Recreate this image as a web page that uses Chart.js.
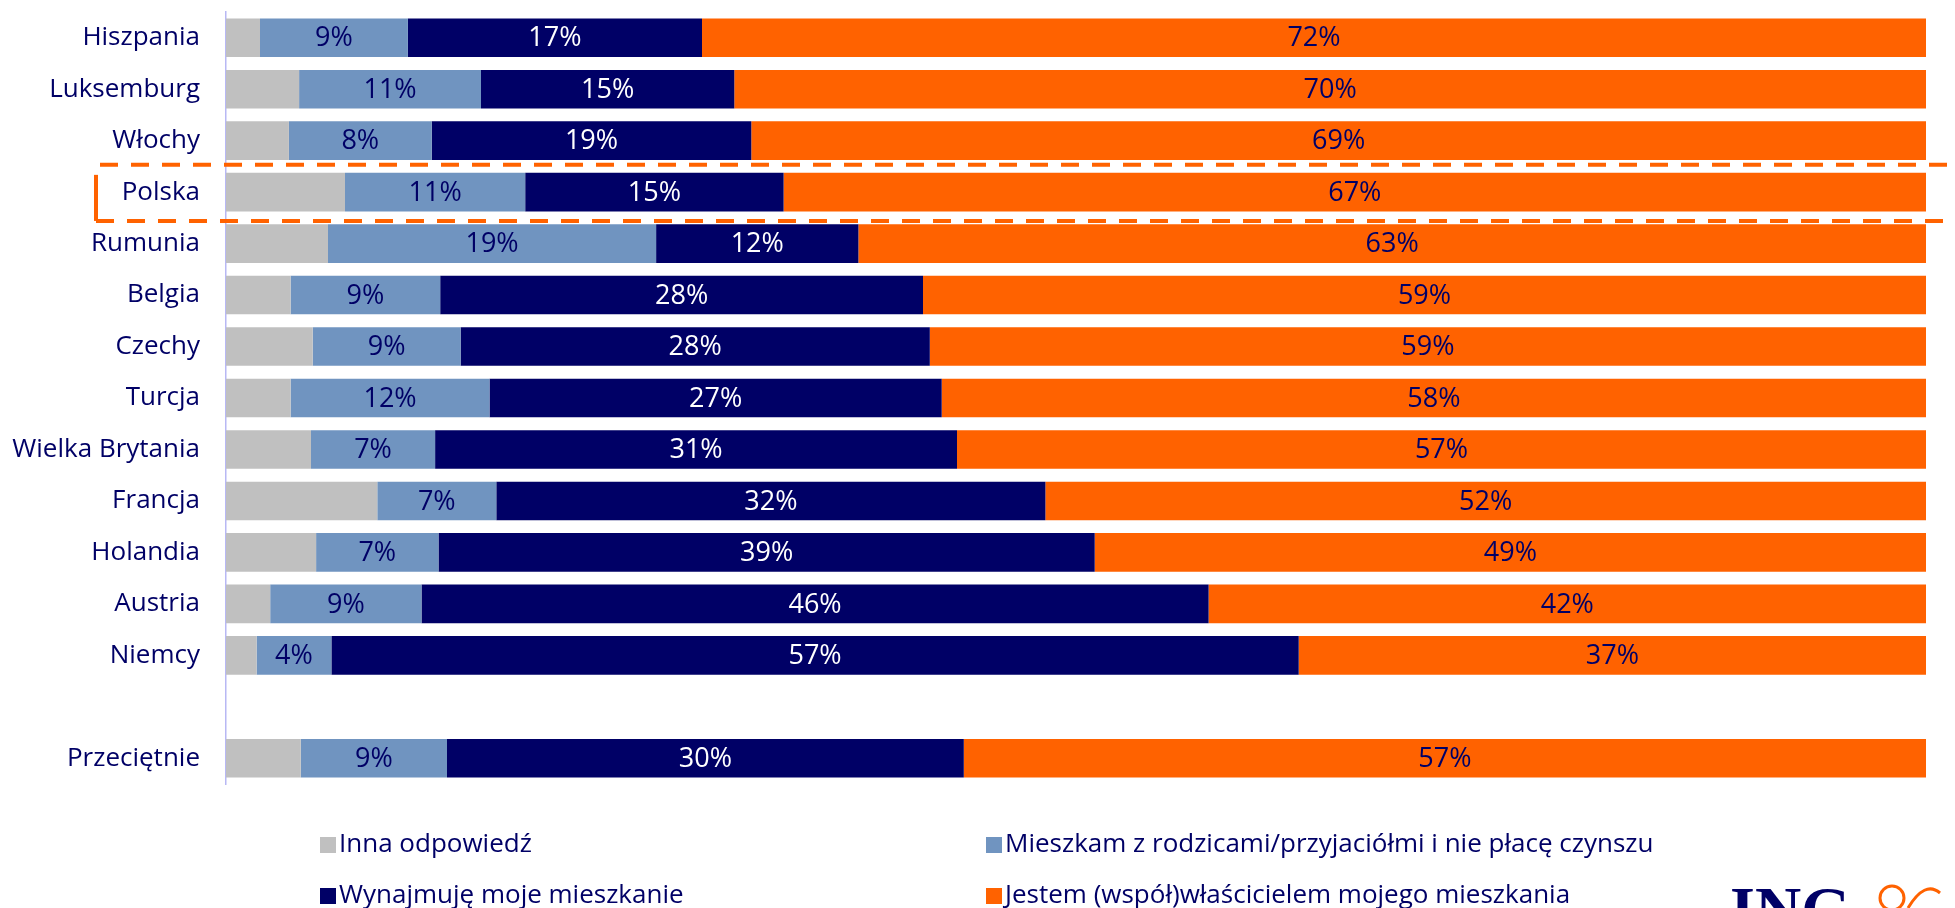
<!DOCTYPE html>
<html>
<head>
<meta charset="utf-8">
<script src="https://cdn.jsdelivr.net/npm/chart.js@4/dist/chart.umd.min.js"></script>
<style>
  html, body { margin: 0; padding: 0; background: #fff; }
  #wrap { position: relative; width: 1955px; height: 908px; overflow: hidden; }
  #chart { position: absolute; left: 0; top: 0; }
  .leg { position: absolute; font: 26px "Open Sans", sans-serif; color: #000066; white-space: nowrap; line-height: 26px; }
  .leg i { display: inline-block; width: 16px; height: 16px; margin-right: 3px; vertical-align: -1px; }
</style>
</head>
<body>
<div id="wrap">
  <canvas id="chart" width="1955" height="908"></canvas>
  <div id="legend"></div>
</div>
<script>
const countries = ['Hiszpania', 'Luksemburg', 'Włochy', 'Polska', 'Rumunia', 'Belgia', 'Czechy', 'Turcja',
  'Wielka Brytania', 'Francja', 'Holandia', 'Austria', 'Niemcy', '', 'Przeciętnie'];

// shares in %
const inna      = [2.0, 4.3, 3.7, 7.0, 6.0, 3.8, 5.1, 3.8, 5.0, 8.9, 5.3, 2.6, 1.8, null, 4.4];
const rodzice   = [8.7, 10.7, 8.4, 10.6, 19.3, 8.8, 8.7, 11.7, 7.3, 7.0, 7.2, 8.9, 4.4, null, 8.6];
const wynajem   = [17.3, 14.9, 18.8, 15.2, 11.9, 28.4, 27.6, 26.6, 30.7, 32.3, 38.6, 46.3, 56.9, null, 30.4];
const wlasciciel = [72.0, 70.1, 69.1, 67.2, 62.8, 59.0, 58.6, 57.9, 57.0, 51.8, 48.9, 42.2, 36.9, null, 56.6];

const seriesNames = ['Inna odpowiedź', 'Mieszkam z rodzicami/przyjaciółmi i nie płacę czynszu',
  'Wynajmuję moje mieszkanie', 'Jestem (współ)właścicielem mojego mieszkania'];

const C = {
  gray: '#c0c0c0',
  light: '#7094c0',
  navy: '#000066',
  orange: '#ff6200',
};

const FONT = '"Open Sans", sans-serif';
const highlight = 'Polska';

const segLabels = {
  id: 'segLabels',
  afterDatasetsDraw(chart) {
    const ctx = chart.ctx;
    ctx.save();
    ctx.font = '27px ' + FONT;
    ctx.textAlign = 'center';
    ctx.textBaseline = 'middle';
    chart.data.datasets.forEach((ds, i) => {
      if (!ds.labelColor) return;
      chart.getDatasetMeta(i).data.forEach((bar, j) => {
        const v = ds.data[j];
        if (v == null) return;
        const p = bar.getProps(['x', 'base', 'y'], true);
        ctx.fillStyle = ds.labelColor;
        ctx.fillText(Math.round(v) + '%', (p.x + p.base) / 2, p.y + 1);
      });
    });
    ctx.restore();
  }
};

const extras = {
  id: 'extras',
  afterDraw(chart) {
    const ctx = chart.ctx;
    const y = chart.scales.y;
    const idx = countries.indexOf(highlight);
    const band = y.getPixelForValue(1) - y.getPixelForValue(0);
    const cy = y.getPixelForValue(idx);
    const top = cy - band * 0.53, bottom = cy + band * 0.56;
    const left = 96;
    ctx.save();
    ctx.strokeStyle = C.orange;
    ctx.lineWidth = 4;
    ctx.setLineDash([18, 13]);
    ctx.beginPath();
    ctx.moveTo(left + 4, top);
    ctx.lineTo(chart.width + 10, top);
    ctx.moveTo(left, bottom);
    ctx.lineTo(chart.width + 10, bottom);
    ctx.stroke();
    ctx.setLineDash([]);
    ctx.beginPath();
    ctx.moveTo(left, top + 10);
    ctx.lineTo(left, bottom);
    ctx.stroke();

    // ING logo, cut off at the bottom
    ctx.fillStyle = C.navy;
    ctx.font = 'bold 64px "Liberation Serif", serif';
    ctx.textAlign = 'left';
    ctx.textBaseline = 'alphabetic';
    ctx.fillText('ING', 1730, 931);
    ctx.strokeStyle = C.orange;
    ctx.lineWidth = 3;
    ctx.beginPath();
    ctx.arc(1892, 898, 12, 0, Math.PI * 2);
    ctx.stroke();
    ctx.beginPath();
    ctx.moveTo(1908, 908);
    ctx.quadraticCurveTo(1925, 880, 1940, 893);
    ctx.stroke();
    ctx.restore();
  }
};

new Chart(document.getElementById('chart'), {
  type: 'bar',
  data: {
    labels: countries,
    datasets: [
      { label: seriesNames[0], data: inna, backgroundColor: C.gray },
      { label: seriesNames[1], data: rodzice, backgroundColor: C.light, labelColor: C.navy },
      { label: seriesNames[2], data: wynajem, backgroundColor: C.navy, labelColor: '#ffffff' },
      { label: seriesNames[3], data: wlasciciel, backgroundColor: C.orange, labelColor: C.navy },
    ],
  },
  options: {
    indexAxis: 'y',
    responsive: false,
    animation: false,
    layout: { padding: { top: 12, bottom: 124, right: 29, left: 0 } },
    datasets: { bar: { categoryPercentage: 1, barPercentage: 0.75 } },
    plugins: {
      legend: { display: false },
      tooltip: { enabled: false },
    },
    scales: {
      x: { stacked: true, min: 0, max: 100, display: false },
      y: {
        stacked: true,
        grid: { display: false, drawTicks: false },
        border: { color: '#b8b8f4', width: 1.5 },
        ticks: { color: C.navy, padding: 26, font: { family: FONT, size: 26 } },
        afterFit: s => { s.width = 226; s.paddingTop = 0; s.paddingBottom = 0; },
      },
    },
  },
  plugins: [segLabels, extras],
});

// two-column legend under the chart
const legPos = [[320, 829], [986, 829], [320, 880], [986, 880]];
const legColors = [C.gray, C.light, C.navy, C.orange];
document.getElementById('legend').innerHTML = seriesNames.map((n, i) =>
  `<div class="leg" style="left:${legPos[i][0]}px;top:${legPos[i][1]}px"><i style="background:${legColors[i]}"></i>${n}</div>`
).join('');
</script>
</body>
</html>
